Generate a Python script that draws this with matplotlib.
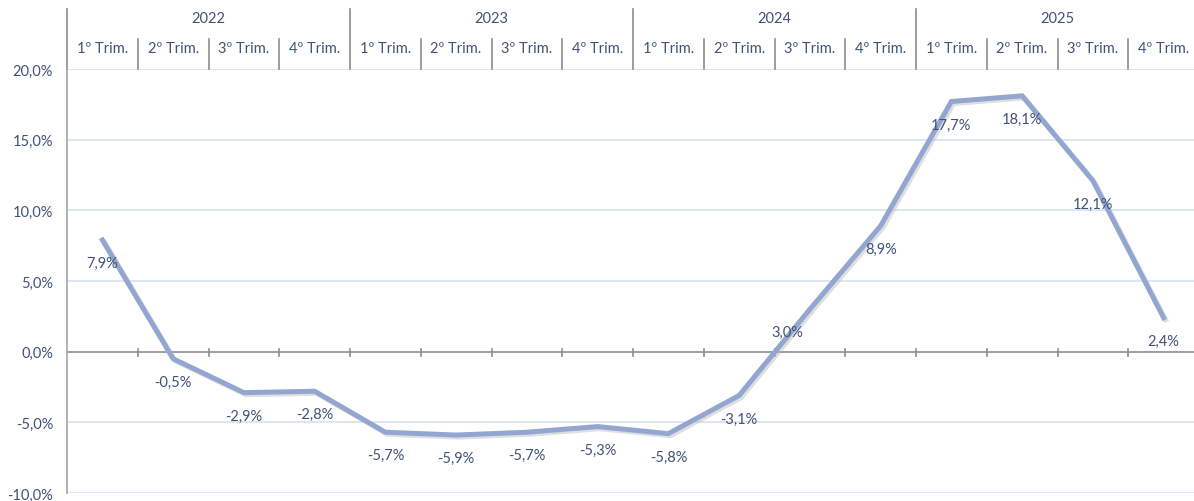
import matplotlib
matplotlib.use("Agg")
import matplotlib.pyplot as plt
import matplotlib.transforms as mtransforms
import matplotlib.patheffects as pe
import numpy as np

years = ["2022", "2023", "2024", "2025"]
quarters = ["1º Trim.", "2º Trim.", "3º Trim.", "4º Trim."]
values = [7.9, -0.5, -2.9, -2.8,
          -5.7, -5.9, -5.7, -5.3,
          -5.8, -3.1, 3.0, 8.9,
          17.7, 18.1, 12.1, 2.4]
yticks = [-10, -5, 0, 5, 10, 15, 20]

text_color = "#3F5277"
line_color = "#92A6D0"
grid_color = "#D9E2F1"
axis_color = "#8C8C8C"

plt.rcParams["font.family"] = ["Lato", "DejaVu Sans"]

fig = plt.figure(figsize=(11.94, 5.02), dpi=100)
W, H = 1194, 502
# plot area runs slightly past the right edge of the canvas
ax = fig.add_axes([67 / W, 8 / H, (1199 - 67) / W, (494 - 70) / H])

x = np.arange(len(values))
ax.plot(x, values, color=line_color, lw=3.6, solid_joinstyle="miter",
        path_effects=[pe.SimpleLineShadow(offset=(1.5, -1.5), shadow_color="#B8B8B8", alpha=0.45),
                      pe.Normal()], zorder=3)

# data labels sit under each point
shift = {10: -23}
for i, v in enumerate(values):
    ax.annotate(f"{v:.1f}%".replace(".", ","), (i, v),
                xytext=(shift.get(i, 0), -23), textcoords="offset pixels",
                ha="center", va="center", fontsize=10.5, color=text_color, zorder=4)

ax.set_xlim(-0.5, len(values) - 0.5)
ax.set_ylim(-10, 20)
ax.set_yticks(yticks)
ax.set_yticklabels([f"{t:.1f}%".replace(".", ",") for t in yticks])
ax.tick_params(axis="y", length=0, pad=10, labelsize=10.5, labelcolor=text_color)
ax.set_xticks([])

for t in yticks:
    if t != 0:
        ax.axhline(t, color=grid_color, lw=1.2, zorder=1)
ax.axhline(0, color=axis_color, lw=1.2, zorder=2)

for s in ["top", "right", "bottom"]:
    ax.spines[s].set_visible(False)
ax.spines["left"].set_color("#A6A6A6")
ax.spines["left"].set_linewidth(1.2)

# small ticks on the zero line between quarters
for b in np.arange(0.5, len(values) - 0.5, 1.0):
    ax.plot([b, b], [0.2, -0.3], color=axis_color, lw=1.2, zorder=2)

# two-level header above the plot
trans = mtransforms.blended_transform_factory(ax.transData, ax.transAxes)
ah = 494 - 70
y_year_top = 1 + 60 / ah
y_q_top = 1 + 30 / ah
for k in range(len(years)):
    left = k * 4 - 0.5
    ax.plot([left, left], [1, y_year_top], transform=trans, color=axis_color,
            lw=1.2, clip_on=False)
    ax.text(left + 2, 1 + 51 / ah, years[k], transform=trans, ha="center",
            va="center", fontsize=10.5, color=text_color)
    for q in range(4):
        ax.text(left + q + 0.5, 1 + 21 / ah, quarters[q], transform=trans,
                ha="center", va="center", fontsize=10.5, color=text_color)
        if q > 0:
            ax.plot([left + q, left + q], [1, y_q_top], transform=trans,
                    color=axis_color, lw=1.2, clip_on=False)

fig.savefig("out.png", dpi=100)
